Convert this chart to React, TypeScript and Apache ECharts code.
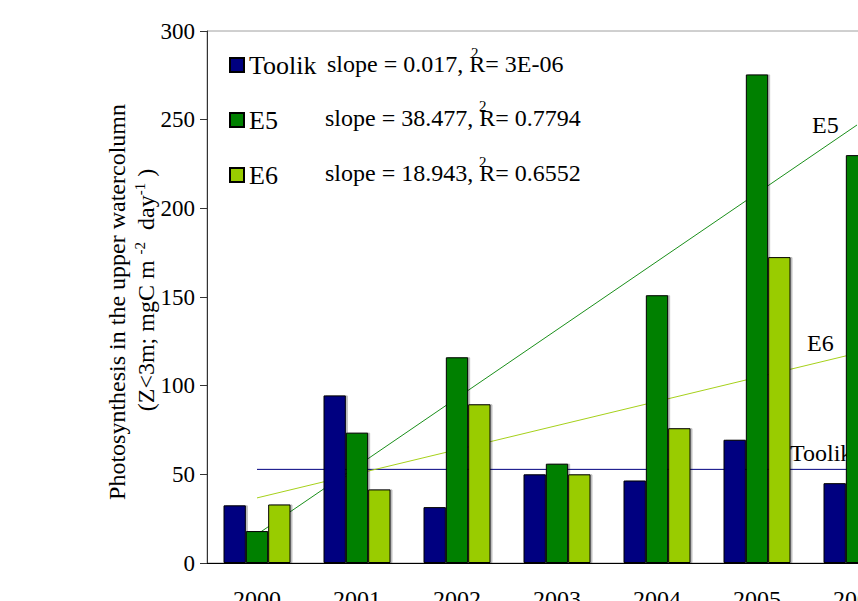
import React, { useEffect, useRef } from "react";
import * as echarts from "echarts";

const years = ["2000", "2001", "2002", "2003", "2004", "2005", "2006"];
const toolik = [32.5, 94.5, 31.5, 50, 46.5, 69.5, 45];
const e5 = [18, 73.5, 116, 56, 151, 275.5, 230];
const e6 = [33, 41.5, 89.5, 50, 76, 172.5, 150];

// trend line end points (first and last category)
const toolikTrend = [52.8, 52.8];
const e5Trend = [16.1, 247];
const e6Trend = [36.7, 118.3];

const slopeTexts = [
  "slope = 0.017, R= 3E-06",
  "slope = 38.477, R= 0.7794",
  "slope = 18.943, R= 0.6552",
];

const yTicks = { min: 0, max: 300, interval: 50 };

const FONT = "Liberation Serif";
const C_TOOLIK = "#000080";
const C_E5 = "#008000";
const C_E6 = "#99CC00";

export default function App() {
  const ref = useRef<HTMLDivElement>(null);
  useEffect(() => {
    if (!ref.current) return;
    const chart = echarts.init(ref.current, null, { renderer: "svg" });
    const barStyle = (color: string) => ({
      color,
      borderColor: "#000",
      borderWidth: 1,
      shadowColor: "rgba(0,0,0,0.25)",
      shadowOffsetX: 2,
      shadowOffsetY: 0,
      shadowBlur: 1,
    });
    const last = years[years.length - 1];
    const trend = (name: string, vals: number[], color: string) => ({
      name: name + " trend",
      type: "line",
      data: [
        [years[0], vals[0]],
        [last, vals[1]],
      ],
      symbol: "none",
      z: 1,
      lineStyle: { color, width: 1 },
      silent: true,
    });
    const txt = (left: number, top: number, text: string, size: number) => ({
      type: "text",
      left,
      top,
      style: { text, fontFamily: FONT, fontSize: size, fill: "#000" },
    });
    chart.setOption({
      animation: false,
      backgroundColor: "#fff",
      textStyle: { fontFamily: FONT },
      grid: {
        left: 207,
        right: 13,
        top: 31,
        bottom: 38,
        outerBoundsMode: "none",
        containLabel: false,
        show: true,
        borderColor: "#a0a0a0",
        borderWidth: 1,
        backgroundColor: "transparent",
      },
      legend: {
        data: ["Toolik", "E5", "E6"],
        orient: "vertical",
        left: 224,
        top: 47,
        itemWidth: 14,
        itemHeight: 14,
        itemGap: 29,
        icon: "rect",
        textStyle: { fontFamily: FONT, fontSize: 26, color: "#000", lineHeight: 26 },
      },
      xAxis: {
        type: "category",
        data: years,
        axisLine: { lineStyle: { color: "#000", width: 1 } },
        axisTick: { length: 8, lineStyle: { color: "#000" } },
        axisLabel: { fontFamily: FONT, fontSize: 24, color: "#000", margin: 24 },
      },
      yAxis: {
        type: "value",
        min: yTicks.min,
        max: yTicks.max,
        interval: yTicks.interval,
        axisLine: { show: true, lineStyle: { color: "#333", width: 1 } },
        axisTick: { show: true, length: 7, lineStyle: { color: "#333" } },
        axisLabel: { fontFamily: FONT, fontSize: 23, color: "#000", margin: 12 },
        splitLine: { show: false },
      },
      series: [
        { name: "Toolik", type: "bar", data: toolik, barGap: "0%", barCategoryGap: "33%", itemStyle: barStyle(C_TOOLIK), z: 2 },
        { name: "E5", type: "bar", data: e5, barGap: "0%", barCategoryGap: "33%", itemStyle: barStyle(C_E5), z: 2 },
        { name: "E6", type: "bar", data: e6, barGap: "0%", barCategoryGap: "33%", itemStyle: barStyle(C_E6), z: 2 },
        trend("Toolik", toolikTrend, C_TOOLIK),
        trend("E5", e5Trend, "#1a8f1a"),
        trend("E6", e6Trend, "#a6d11a"),
      ],
      graphic: [
        txt(327, 52, slopeTexts[0], 24),
        txt(325, 106, slopeTexts[1], 24),
        txt(325, 161, slopeTexts[2], 24),
        txt(471, 45, "2", 15),
        txt(479, 98, "2", 15),
        txt(479, 154, "2", 15),
        txt(812, 113, "E5", 24),
        txt(807, 331, "E6", 24),
        txt(790, 441, "Toolik", 24),
        {
          type: "text",
          x: 117,
          y: 302,
          rotation: Math.PI / 2,
          style: {
            text: "Photosynthesis in the upper watercolumn",
            fontFamily: FONT,
            fontSize: 24,
            fill: "#000",
            align: "center",
            verticalAlign: "middle",
          },
        },
        {
          type: "text",
          x: 146,
          y: 290,
          rotation: Math.PI / 2,
          style: {
            text: "{n|(Z<3m; mgC m }{s|-2}{n|  day}{s|-1}{n| )}",
            align: "center",
            verticalAlign: "middle",
            rich: {
              n: { fontFamily: FONT, fontSize: 24, fill: "#000", color: "#000" },
              s: { fontFamily: FONT, fontSize: 15, fill: "#000", color: "#000", verticalAlign: "top", padding: [0, 0, 12, 0] },
            },
          },
        },
      ],
    });
    return () => chart.dispose();
  }, []);
  return (
    <div style={{ position: "fixed", left: 0, top: 0, width: 858, height: 601, overflow: "hidden", background: "#fff" }}>
      <div ref={ref} style={{ width: 920, height: 601 }} />
    </div>
  );
}
